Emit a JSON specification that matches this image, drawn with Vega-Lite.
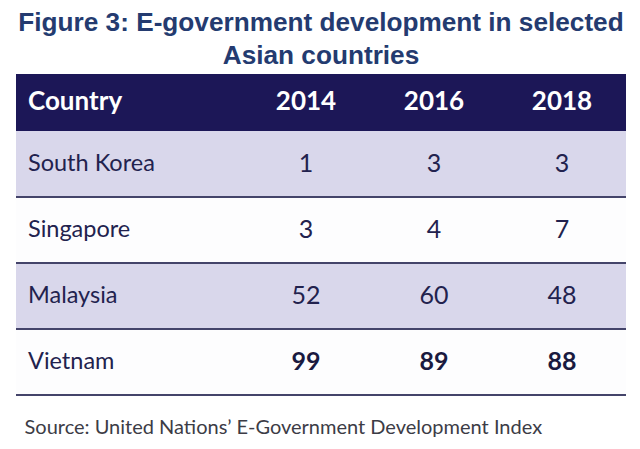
{
  "$schema": "https://vega.github.io/schema/vega-lite/v6.json",
  "width": 610,
  "height": 330,
  "autosize": {"type": "none"},
  "padding": {"left": 16, "top": 65, "right": 14, "bottom": 54},
  "background": "#ffffff",
  "view": {"stroke": null},
  "title": {
    "text": ["Figure 3: E-government development in selected", "Asian countries"],
    "font": "Liberation Sans",
    "fontSize": 26.2,
    "fontWeight": "bold",
    "color": "#243b70",
    "anchor": "middle",
    "lineHeight": 33,
    "offset": -4
  },
  "datasets": {
    "cells": [
      {"country": "South Korea", "year": "2014", "value": 1},
      {"country": "South Korea", "year": "2016", "value": 3},
      {"country": "South Korea", "year": "2018", "value": 3},
      {"country": "Singapore", "year": "2014", "value": 3},
      {"country": "Singapore", "year": "2016", "value": 4},
      {"country": "Singapore", "year": "2018", "value": 7},
      {"country": "Malaysia", "year": "2014", "value": 52},
      {"country": "Malaysia", "year": "2016", "value": 60},
      {"country": "Malaysia", "year": "2018", "value": 48},
      {"country": "Vietnam", "year": "2014", "value": 99},
      {"country": "Vietnam", "year": "2016", "value": 89},
      {"country": "Vietnam", "year": "2018", "value": 88}
    ],
    "rows": [
      {"country": "South Korea"},
      {"country": "Singapore"},
      {"country": "Malaysia"},
      {"country": "Vietnam"}
    ],
    "headers": [
      {"col": "2014"},
      {"col": "2016"},
      {"col": "2018"}
    ]
  },
  "layer": [
    {
      "data": {"values": [{"country": "Header"}]},
      "mark": {"type": "rect", "color": "#1c1757", "yOffset": 9},
      "encoding": {
        "y": {"field": "country", "type": "nominal", "scale": {"domain": ["Header", "South Korea", "Singapore", "Malaysia", "Vietnam"], "paddingInner": 0, "paddingOuter": 0}, "axis": null}
      }
    },
    {
      "data": {"name": "rows"},
      "mark": {"type": "rect"},
      "encoding": {
        "y": {"field": "country", "type": "nominal", "axis": null},
        "color": {
          "condition": {"test": "datum.country === 'South Korea' || datum.country === 'Malaysia'", "value": "#d9d7eb"},
          "value": "#fdfdfe"
        }
      }
    },
    {
      "data": {"name": "rows"},
      "mark": {"type": "rule", "color": "#44446a", "strokeWidth": 2},
      "encoding": {
        "y": {"field": "country", "type": "nominal", "bandPosition": 1, "axis": null}
      }
    },
    {
      "data": {"name": "headers"},
      "mark": {"type": "text", "font": "Lato", "fontSize": 26, "fontWeight": "bold", "color": "#ffffff", "dy": 4},
      "encoding": {
        "x": {"field": "col", "type": "nominal", "scale": {"domain": ["Country", "2014", "2016", "2018"], "type": "band", "paddingInner": 0, "paddingOuter": 0.3828, "align": 1},
          "axis": {"title": "Source: United Nations\u2019 E-Government Development Index", "labels": false, "ticks": false, "domain": false, "titleFont": "Lato", "titleFontSize": 20, "titleFontWeight": "normal", "titleColor": "#3c3c46", "titleAnchor": "start", "titleAlign": "left", "titleX": 8, "titlePadding": 22}},
        "y": {"datum": "Header", "type": "nominal"},
        "text": {"field": "col"}
      }
    },
    {
      "data": {"values": [{"col": "Country"}]},
      "mark": {"type": "text", "font": "Lato", "fontSize": 26, "fontWeight": "bold", "color": "#ffffff", "dy": 4, "align": "left", "dx": -150},
      "encoding": {
        "x": {"field": "col", "type": "nominal"},
        "y": {"datum": "Header", "type": "nominal"},
        "text": {"field": "col"}
      }
    },
    {
      "data": {"name": "rows"},
      "mark": {"type": "text", "font": "Lato", "fontSize": 23.5, "color": "#22224e", "align": "left", "dx": -150},
      "encoding": {
        "x": {"datum": "Country", "type": "nominal"},
        "y": {"field": "country", "type": "nominal"},
        "text": {"field": "country"}
      }
    },
    {
      "data": {"name": "cells"},
      "transform": [{"filter": "datum.country !== 'Vietnam'"}],
      "mark": {"type": "text", "font": "Lato", "fontSize": 25, "color": "#22224e"},
      "encoding": {
        "x": {"field": "year", "type": "nominal"},
        "y": {"field": "country", "type": "nominal"},
        "text": {"field": "value", "type": "quantitative"}
      }
    },
    {
      "data": {"name": "cells"},
      "transform": [{"filter": "datum.country === 'Vietnam'"}],
      "mark": {"type": "text", "font": "Lato", "fontSize": 25, "fontWeight": "bold", "color": "#1a1a40"},
      "encoding": {
        "x": {"field": "year", "type": "nominal"},
        "y": {"field": "country", "type": "nominal"},
        "text": {"field": "value", "type": "quantitative"}
      }
    }
  ]
}
